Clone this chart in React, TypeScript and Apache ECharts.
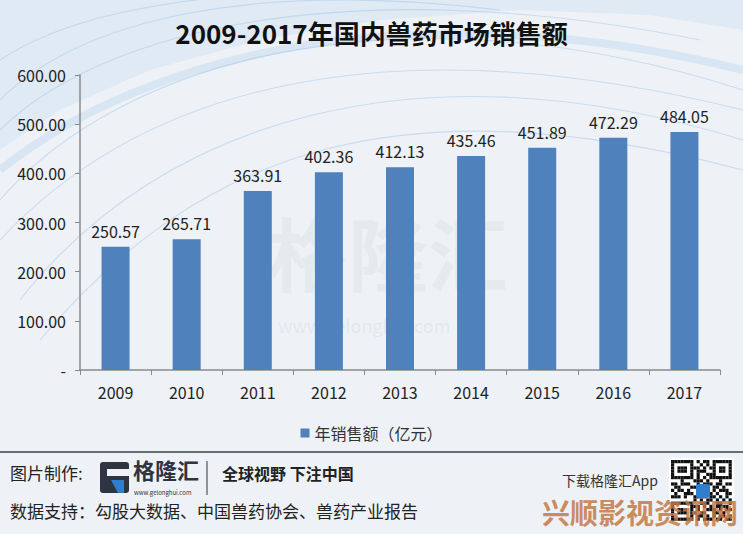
import React, { useEffect, useRef } from "react";
import * as echarts from "echarts";

const years = ["2009", "2010", "2011", "2012", "2013", "2014", "2015", "2016", "2017"];
const sales = [250.57, 265.71, 363.91, 402.36, 412.13, 435.46, 451.89, 472.29, 484.05];
const seriesName = "年销售额（亿元）";
const titleText = "2009-2017年国内兽药市场销售额";

const FONT = "'Noto Sans CJK SC', 'Open Sans', sans-serif";

const qrBits = [
  "1111111010110111111",
  "1000001001010100001",
  "1011101110101101101",
  "1011101011100101101",
  "1000001010011100001",
  "1111111010101111111",
  "0001000111010001000",
  "1101110010111011011",
  "0110001101100110100",
  "1011010010110101110",
  "0100111011001010011",
  "1110100110101101010",
  "0000000101011010101",
  "1111111001110011001",
  "1000001110101011110",
  "1011101010011101011",
  "1011101101100110100",
  "1000001011010101101",
  "1111111010111011011",
];

function buildGraphics() {
  const g: any[] = [];
  g.push({
    type: "polygon",
    silent: true,
    z: -10,
    shape: { points: [[0, 0], [0, 150], [60, 110], [150, 70], [260, 40], [380, 20], [520, 10], [650, 15], [743, 30], [743, 0]] },
    style: { fill: "rgba(175,205,235,0.22)" },
  });
  const curves = [
    [[0, 200], [120, 60], [400, -20], [743, 90]],
    [[0, 170], [150, 50], [420, -10], [743, 70]],
    [[0, 240], [140, 90], [380, 20], [743, 110]],
    [[0, 130], [100, 30], [350, -30], [700, 40]],
    [[20, 300], [160, 120], [420, 40], [743, 140]],
    [[0, 100], [80, 20], [250, -20], [500, 10]],
    [[40, 340], [200, 150], [400, 80], [743, 170]],
    [[0, 60], [60, 20], [150, 0], [300, -10]],
  ];
  curves.forEach((c, i) => {
    g.push({
      type: "bezierCurve",
      silent: true,
      z: -9,
      shape: { x1: c[0][0], y1: c[0][1], cpx1: c[1][0], cpy1: c[1][1], cpx2: c[2][0], cpy2: c[2][1], x2: c[3][0], y2: c[3][1] },
      style: {
        stroke: i === 1 ? "rgba(150,190,230,0.25)" : i % 2 ? "rgba(150,190,230,0.4)" : "rgba(120,170,225,0.3)",
        lineWidth: i === 1 ? 8 : 1.1,
        fill: null,
      },
    });
  });
  g.push({
    type: "text", silent: true, z: -5, left: 268, top: 210,
    style: { text: "格隆汇", font: `bold 80px ${FONT}`, fill: "rgba(140,150,160,0.09)" },
  });
  g.push({
    type: "text", silent: true, z: -5, left: 278, top: 316,
    style: { text: "www.gelonghui.com", font: `18px ${FONT}`, fill: "rgba(140,150,160,0.12)" },
  });
  g.push({ type: "line", silent: true, shape: { x1: 0, y1: 452, x2: 743, y2: 452 }, style: { stroke: "#3a3f4a", lineWidth: 1.5 } });
  g.push({
    type: "text", left: 10, top: 464,
    style: { text: "图片制作:", font: `17px ${FONT}`, fill: "#222" },
  });
  g.push({ type: "rect", shape: { x: 100, y: 462, width: 29, height: 31, r: 3 }, style: { fill: "#2e3441" } });
  g.push({ type: "rect", shape: { x: 107, y: 469, width: 22, height: 7 }, style: { fill: "#eef2f6" } });
  g.push({ type: "polygon", shape: { points: [[111, 480], [124, 480], [124, 493], [118, 493]] }, style: { fill: "#2f7fd0" } });
  g.push({
    type: "text", left: 133, top: 458,
    style: { text: "格隆汇", font: `bold 22px ${FONT}`, fill: "#2e3441" },
  });
  g.push({
    type: "text", left: 134, top: 489,
    style: { text: "www.gelonghui.com", font: `6px ${FONT}`, fill: "#2e3441" },
  });
  g.push({ type: "line", shape: { x1: 207, y1: 461, x2: 207, y2: 495 }, style: { stroke: "#333", lineWidth: 1 } });
  g.push({
    type: "text", left: 222, top: 465,
    style: { text: "全球视野 下注中国", font: `bold 16px ${FONT}`, fill: "#222" },
  });
  g.push({
    type: "text", left: 10, top: 502,
    style: { text: "数据支持：勾股大数据、中国兽药协会、兽药产业报告", font: `17px ${FONT}`, fill: "#222" },
  });
  g.push({
    type: "text", left: 562, top: 472,
    style: { text: "下载格隆汇App", font: `14px ${FONT}`, fill: "#333", lineHeight: 16 },
  });
  const qx = 671, qy = 460, cell = 3.2;
  g.push({ type: "rect", shape: { x: qx - 2, y: qy - 2, width: cell * 19 + 4, height: cell * 19 + 4 }, style: { fill: "#fff" } });
  qrBits.forEach((row, r) => {
    for (let c = 0; c < row.length; c++) {
      if (row[c] === "1") {
        g.push({ type: "rect", shape: { x: qx + c * cell, y: qy + r * cell, width: cell, height: cell }, style: { fill: "#111" } });
      }
    }
  });
  g.push({ type: "rect", shape: { x: 696, y: 484, width: 14, height: 14, r: 3 }, style: { fill: "#2f7fd0" } });
  g.push({
    type: "text", left: 542, top: 497, z: 50,
    style: { text: "兴顺影视资讯网", font: `bold 28px ${FONT}`, fill: "rgba(196,120,72,0.85)", lineHeight: 30 },
  });
  return g;
}

export default function App() {
  const ref = useRef<HTMLDivElement>(null);
  useEffect(() => {
    if (!ref.current) return;
    const chart = echarts.init(ref.current, null, { renderer: "svg" });
    chart.setOption({
      animation: false,
      backgroundColor: "#eef2f6",
      textStyle: { fontFamily: FONT },
      title: {
        text: titleText,
        left: "center",
        top: 14,
        textStyle: { fontSize: 26, fontWeight: "bold", color: "#111", fontFamily: FONT },
      },
      legend: {
        data: [seriesName],
        top: 420,
        left: "center",
        icon: "rect",
        itemWidth: 9,
        itemHeight: 9,
        itemGap: 6,
        textStyle: { fontSize: 16, color: "#333" },
      },
      grid: { left: 80, right: 23, top: 75, bottom: 164, containLabel: false },
      xAxis: {
        type: "category",
        data: years,
        axisLine: { lineStyle: { color: "#8a8a8a", width: 1.5 } },
        axisTick: { show: true, length: 5, lineStyle: { color: "#8a8a8a" } },
        axisLabel: { fontSize: 16, color: "#222", margin: 14 },
      },
      yAxis: {
        type: "value",
        min: 0,
        max: 600,
        interval: 100,
        axisLine: { show: true, lineStyle: { color: "#8a8a8a", width: 1.5 } },
        axisTick: { show: true, length: 5, lineStyle: { color: "#8a8a8a" } },
        splitLine: { show: false },
        axisLabel: {
          fontSize: 16,
          color: "#222",
          margin: 14,
          formatter: (v: number) => (v === 0 ? "-" : v.toFixed(2)),
        },
      },
      series: [
        {
          name: seriesName,
          type: "bar",
          data: sales,
          barWidth: 28,
          itemStyle: { color: "#4f81bd" },
          label: {
            show: true,
            position: "top",
            distance: 8,
            fontSize: 16,
            color: "#222",
            formatter: (p: any) => Number(p.value).toFixed(2),
          },
        },
      ],
      graphic: buildGraphics(),
    });
    return () => chart.dispose();
  }, []);
  return <div ref={ref} style={{ width: 743, height: 534, position: "absolute", left: 0, top: 0 }} />;
}
